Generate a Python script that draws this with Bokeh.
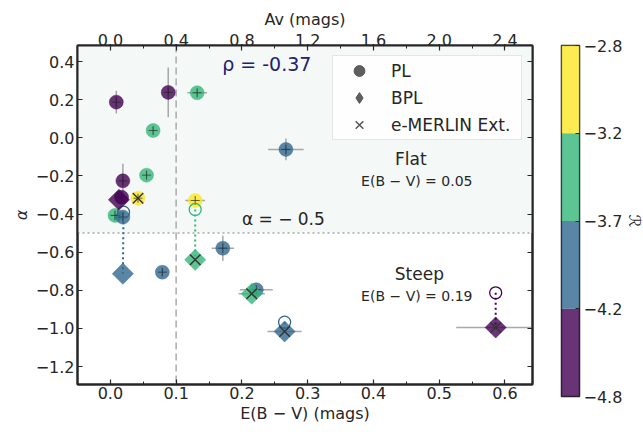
import numpy as np
from bokeh.plotting import figure
from bokeh.models import (Range1d, LinearAxis, SingleIntervalTicker, FixedTicker,
                          CustomJSTickFormatter, BoxAnnotation, Span, Label,
                          Legend, LegendItem)
from bokeh.layouts import row
from bokeh.embed import file_html
from bokeh.resources import INLINE

FONT = "DejaVu Sans"
INK = "#262626"

# colour classes: R bins shown in the colour bar
r_bounds = [-4.8, -4.2, -3.7, -3.2, -2.8]
r_tick_labels = ["−4.8", "−4.2", "−3.7", "−3.2", "−2.8"]
palette = ["#440154", "#31688e", "#35b779", "#fde725"]

# top axis: Av = av_per_ebv * E(B-V)
av_per_ebv = 4.0

# PL fits (filled circles)
pl_ebv       = [0.009, 0.088, 0.132, 0.065, 0.055, 0.267, 0.019, 0.017, 0.042, 0.129, 0.007, 0.019, 0.171, 0.079, 0.222]
pl_alpha     = [0.187, 0.238, 0.236, 0.038, -0.196, -0.061, -0.226, -0.312, -0.317, -0.329, -0.407, -0.416, -0.579, -0.705, -0.797]
pl_ebv_err   = [0.0, 0.0, 0.015, 0.0, 0.0, 0.027, 0.0, 0.0, 0.0, 0.015, 0.006, 0.0, 0.017, 0.0, 0.025]
pl_alpha_err = [0.06, 0.13, 0.02, 0.02, 0.02, 0.057, 0.09, 0.02, 0.02, 0.02, 0.03, 0.03, 0.067, 0.02, 0.02]
pl_R         = [-4.5, -4.5, -3.45, -3.45, -3.45, -3.95, -4.5, -4.5, -3.0, -3.0, -3.45, -3.95, -3.95, -3.95, -3.95]
pl_ext       = [False, False, False, False, False, False, False, False, True, False, False, False, False, False, False]

# BPL fits (diamonds)
bpl_ebv     = [0.019, 0.013, 0.129, 0.215, 0.265, 0.586]
bpl_alpha   = [-0.713, -0.325, -0.640, -0.818, -1.016, -0.995]
bpl_ebv_err = [0.0, 0.0, 0.0, 0.02, 0.026, 0.06]
bpl_R       = [-3.95, -4.5, -3.45, -3.45, -3.95, -4.5]
bpl_ext     = [False, False, True, True, True, True]   # e-MERLIN extended

# PL value of sources preferring BPL (open circles), linked to their BPL diamond
open_ebv   = [0.020, 0.129, 0.265, 0.586]
open_alpha = [-0.390, -0.376, -0.967, -0.813]
open_link  = [0, 2, 4, 5]


def colours(rvals):
    idx = np.digitize(rvals, r_bounds[1:-1])
    return [palette[i] for i in idx]


pl_col = colours(pl_R)
bpl_col = colours(bpl_R)
open_col = [bpl_col[i] for i in open_link]

x_lo, x_hi = -0.05, 0.642
y_lo, y_hi = -1.294, 0.484

p = figure(frame_width=455, frame_height=339,
           min_border_left=77, min_border_top=45, min_border_bottom=51, min_border_right=10,
           x_range=Range1d(x_lo, x_hi), y_range=Range1d(y_lo, y_hi),
           x_axis_location=None, y_axis_location=None,
           output_backend="svg", toolbar_location=None)
p.extra_x_ranges = {"av": Range1d(x_lo * av_per_ebv, x_hi * av_per_ebv)}
p.grid.visible = False
p.outline_line_color = INK
p.outline_line_width = 2
p.background_fill_color = "white"
p.border_fill_color = "white"

fmt = CustomJSTickFormatter(code="""
const v = Math.abs(tick) < 1e-9 ? 0 : tick;
return (v < 0 ? '\u2212' : '') + Math.abs(v).toFixed(1);
""")
blank = CustomJSTickFormatter(code="return '';")


def style_axis(ax):
    ax.axis_line_width = 2
    ax.axis_line_color = INK
    ax.major_tick_in = 5
    ax.major_tick_out = 0
    ax.minor_tick_in = 3
    ax.minor_tick_out = 0
    ax.major_tick_line_color = INK
    ax.minor_tick_line_color = INK
    ax.major_tick_line_width = 1.2
    ax.major_label_text_font = FONT
    ax.major_label_text_font_size = "16px"
    ax.major_label_text_color = INK
    ax.major_label_standoff = 2
    ax.axis_label_text_font = FONT
    ax.axis_label_text_font_size = "16px"
    ax.axis_label_text_font_style = "normal"
    ax.axis_label_text_color = INK
    ax.axis_label_standoff = 2


xb = LinearAxis(ticker=SingleIntervalTicker(interval=0.1, num_minor_ticks=2),
                formatter=fmt, axis_label="E(B − V) (mags)")
style_axis(xb)
p.add_layout(xb, "below")

xt = LinearAxis(x_range_name="av", ticker=SingleIntervalTicker(interval=0.4, num_minor_ticks=2),
                formatter=fmt, axis_label="Av (mags)")
style_axis(xt)
xt.major_label_standoff = 0
p.add_layout(xt, "above")

yl = LinearAxis(ticker=SingleIntervalTicker(interval=0.2), formatter=fmt, axis_label="α")
style_axis(yl)
yl.minor_tick_line_color = None
yl.major_label_standoff = 3
yl.axis_label_text_font_style = "italic"
p.add_layout(yl, "left")

yr = LinearAxis(ticker=SingleIntervalTicker(interval=0.2), formatter=blank)
style_axis(yr)
yr.minor_tick_line_color = None
yr.major_label_standoff = 0
p.add_layout(yr, "right")

# flat-spectrum region shading and reference lines
p.add_layout(BoxAnnotation(bottom=-0.5, fill_color="#f4f8f6", fill_alpha=1.0,
                           line_color=None, level="underlay"))
p.add_layout(Span(location=-0.5, dimension="width", line_color="#a8a8a8",
                  line_width=1.5, line_dash="2 3", level="underlay"))
p.add_layout(Span(location=0.1, dimension="height", line_color="#b0b0b0",
                  line_width=1.6, line_dash="7 4", level="underlay"))

# error bars
pe = np.array(pl_ebv); pa = np.array(pl_alpha)
pex = np.array(pl_ebv_err); pay = np.array(pl_alpha_err)
p.segment(x0=pe - pex, x1=pe + pex, y0=pa, y1=pa, line_color="#9a9a9a", line_width=1.5, line_alpha=0.85)
p.segment(x0=pe, x1=pe, y0=pa - pay, y1=pa + pay, line_color="#9a9a9a", line_width=1.5, line_alpha=0.85)
be = np.array(bpl_ebv); ba = np.array(bpl_alpha); bex = np.array(bpl_ebv_err)
p.segment(x0=be - bex, x1=be + bex, y0=ba, y1=ba, line_color="#9a9a9a", line_width=1.5, line_alpha=0.85)

# dotted links PL -> BPL
p.segment(x0=open_ebv, y0=open_alpha,
          x1=[bpl_ebv[i] for i in open_link], y1=[bpl_alpha[i] for i in open_link],
          line_color=open_col, line_width=2, line_dash="2 3")

# PL filled circles
p.scatter(x=pl_ebv, y=pl_alpha, marker="circle", size=14,
          fill_color=pl_col, fill_alpha=0.8, line_color=pl_col, line_alpha=0.8, line_width=0.5)
p.scatter(x=pl_ebv, y=pl_alpha, marker="cross", size=9,
          line_color="#222222", line_alpha=0.65, line_width=1)

# open circles
p.scatter(x=open_ebv, y=open_alpha, marker="circle", size=12,
          fill_color=None, line_color=open_col, line_width=1.3)

# BPL diamonds
p.scatter(x=bpl_ebv, y=bpl_alpha, marker="square", angle=np.pi / 4, size=15,
          fill_color=bpl_col, fill_alpha=0.8, line_color=bpl_col, line_alpha=0.8, line_width=0.5)

# e-MERLIN extended crosses
ext_x = [x for x, e in zip(bpl_ebv, bpl_ext) if e] + [x for x, e in zip(pl_ebv, pl_ext) if e]
ext_y = [y for y, e in zip(bpl_alpha, bpl_ext) if e] + [y for y, e in zip(pl_alpha, pl_ext) if e]
p.scatter(x=ext_x, y=ext_y, marker="x", size=15, line_color="#333333", line_width=1.4)

# legend proxies (not drawn in the plot area: NaN positions)
nan = [float("nan")]
lg_pl = p.scatter(x=nan, y=nan, marker="circle", fill_color="#555555", line_color="#555555", fill_alpha=0.95)
lg_bpl = p.scatter(x=nan, y=nan, marker="diamond", fill_color="#555555", line_color="#555555", fill_alpha=0.95)
lg_ext = p.scatter(x=nan, y=nan, marker="x", line_color="#555555", line_width=1.5)
legend = Legend(items=[LegendItem(label="PL", renderers=[lg_pl]),
                       LegendItem(label="BPL", renderers=[lg_bpl]),
                       LegendItem(label="e-MERLIN Ext.", renderers=[lg_ext])],
                location="top_right", margin=10, padding=1, spacing=0,
                glyph_height=27, glyph_width=50, label_standoff=7, label_width=129,
                label_text_font=FONT, label_text_font_size="17px", label_text_color=INK,
                border_line_color="#cccccc", border_line_width=1,
                background_fill_color="white", background_fill_alpha=0.85)
p.add_layout(legend)

# annotations
def label(x, y, text, size, align="center", color=INK, style="normal"):
    p.add_layout(Label(x=x, y=y, text=text, text_font=FONT, text_font_size=size,
                       text_align=align, text_baseline="middle", text_color=color,
                       text_font_style=style))

label(0.170, 0.385, "ρ = -0.37", "19px", align="left", color="#22226b")
label(0.457, -0.110, "Flat", "17px")
label(0.466, -0.229, "E(B − V) = 0.05", "14px")
label(0.200, -0.426, "α = − 0.5", "17px", align="left")
label(0.470, -0.713, "Steep", "17px")
label(0.466, -0.828, "E(B − V) = 0.19", "14px")

# colour bar
cb = figure(frame_width=18, frame_height=351,
            min_border_left=19, min_border_top=37, min_border_bottom=47, min_border_right=0,
            x_range=Range1d(0, 1), y_range=Range1d(0, len(palette)),
            x_axis_location=None, y_axis_location=None,
            output_backend="svg", toolbar_location=None)
cb.grid.visible = False
cb.outline_line_color = INK
cb.outline_line_width = 1.5
cb.border_fill_color = "white"
nb = len(palette)
cb.quad(left=0, right=1, bottom=list(range(nb)), top=list(range(1, nb + 1)),
        fill_color=palette, fill_alpha=0.8, line_color=None)
cax = LinearAxis(ticker=FixedTicker(ticks=list(range(nb + 1))),
                 major_label_overrides={i: t for i, t in enumerate(r_tick_labels)},
                 axis_label="ℛ")
style_axis(cax)
cax.axis_line_color = None
cax.major_tick_in = 4
cax.major_label_standoff = 4
cax.axis_label_standoff = 0
cb.add_layout(cax, "right")

layout = row(p, cb)
open("out.html", "w").write(file_html(layout, INLINE))
